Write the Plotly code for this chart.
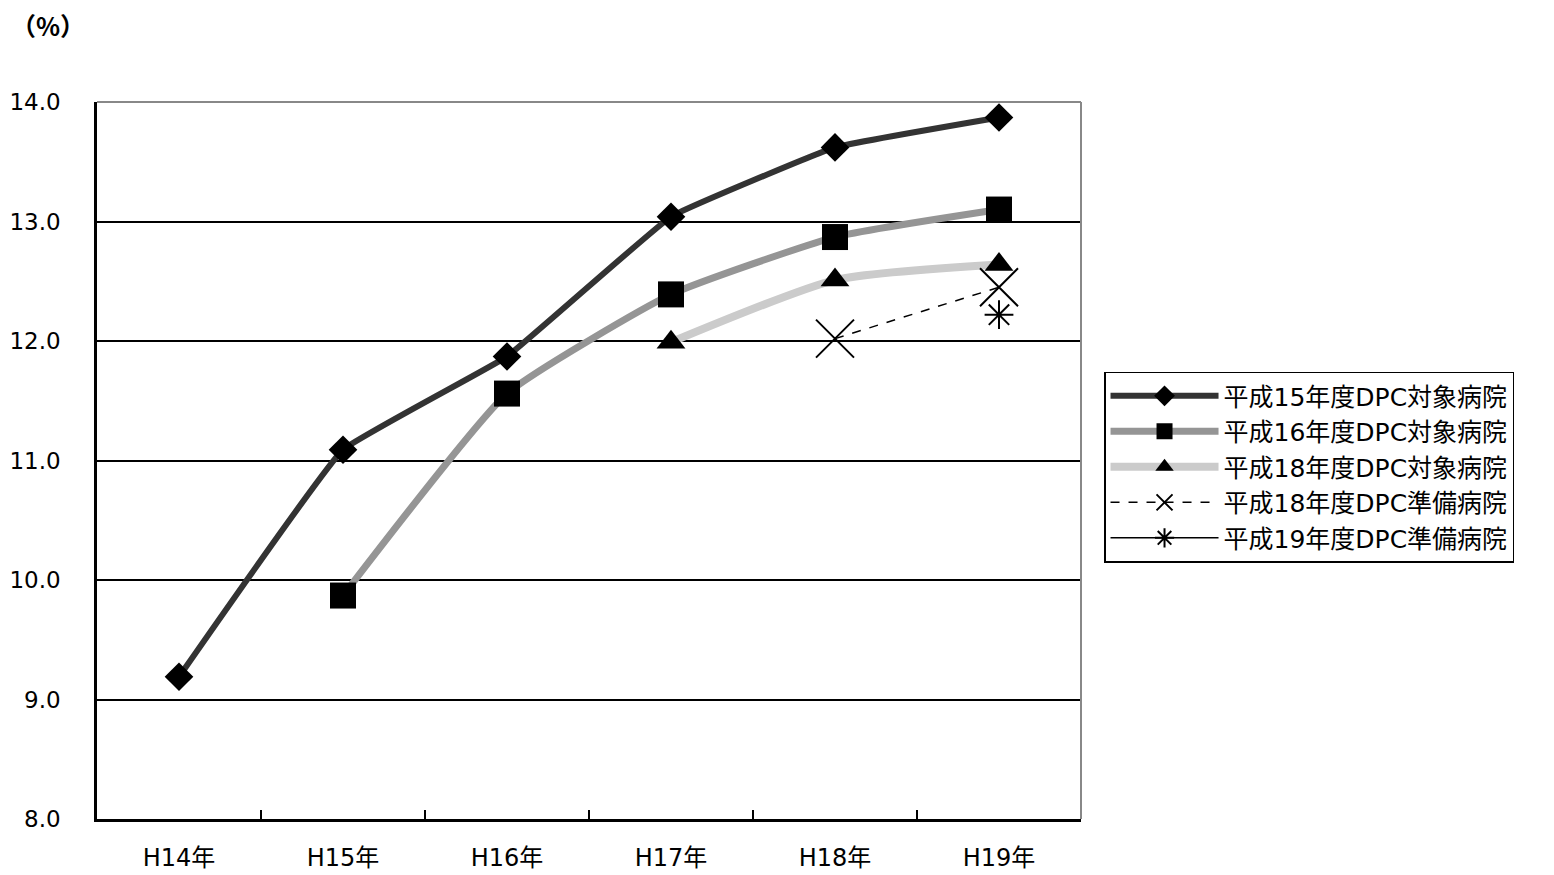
import plotly.graph_objects as go

years = ["H14年", "H15年", "H16年", "H17年", "H18年", "H19年"]

h15_taisho = [9.19, 11.09, 11.87, 13.04, 13.62, 13.87]
h16_taisho = [None, 9.87, 11.56, 12.39, 12.87, 13.10]
h18_taisho = [None, None, None, 11.99, 12.51, 12.64]
h18_junbi = [None, None, None, None, 12.02, 12.45]
h19_junbi = [None, None, None, None, None, 12.22]

names = ["平成15年度DPC対象病院", "平成16年度DPC対象病院", "平成18年度DPC対象病院",
         "平成18年度DPC準備病院", "平成19年度DPC準備病院"]

FONT = "DejaVu Sans, Noto Sans CJK JP, sans-serif"

fig = go.Figure()

fig.add_trace(go.Scatter(
    x=years, y=h15_taisho, name=names[0], mode="lines+markers", legendgroup="a",
    line=dict(color="#333333", width=6, shape="spline", smoothing=0.25),
    marker=dict(symbol="diamond", size=22, color="black"),
))
fig.add_trace(go.Scatter(
    x=years, y=h16_taisho, name=names[1], mode="lines+markers", legendgroup="b",
    line=dict(color="#959595", width=7, shape="spline", smoothing=0.45),
    marker=dict(symbol="square", size=26, color="black"),
))
fig.add_trace(go.Scatter(
    x=years, y=h18_taisho, name=names[2], mode="lines+markers", legendgroup="c",
    line=dict(color="#cbcbcb", width=8, shape="spline", smoothing=0.6),
    marker=dict(symbol="triangle-up", size=25, color="black"),
))
fig.add_trace(go.Scatter(
    x=years, y=h18_junbi, name=names[3], mode="lines+markers", legendgroup="d",
    line=dict(color="black", width=1.5, dash="dash"),
    marker=dict(symbol="x-thin-open", size=38, color="black", line=dict(width=2, color="black")),
))
fig.add_trace(go.Scatter(
    x=years, y=h19_junbi, name=names[4], mode="lines+markers", legendgroup="e",
    line=dict(color="black", width=1.5),
    marker=dict(symbol="asterisk-open", size=24, color="black", line=dict(width=2, color="black")),
))

# the page puts the figure 8px in from the top-left corner
fig.update_layout(
    width=1546, height=867,
    margin=dict(l=89, r=473, t=94, b=56),
    paper_bgcolor="white", plot_bgcolor="white",
    font=dict(family=FONT, size=22, color="black"),
    showlegend=True,
    legend=dict(
        x=1.0234, y=0.624, xanchor="left", yanchor="top",
        bordercolor="black", borderwidth=1.5,
        font=dict(size=25), tracegroupgap=0, itemwidth=108,
    ),
    annotations=[dict(
        text="<b>（%）</b>", xref="paper", yref="paper", x=-0.05, y=1.107,
        xanchor="center", yanchor="middle", showarrow=False,
        font=dict(family="Noto Sans CJK JP", size=25),
    )],
    shapes=[
        dict(type="line", xref="paper", yref="paper", x0=0, x1=1, y0=1, y1=1,
             line=dict(color="#888888", width=2)),
        dict(type="line", xref="paper", yref="paper", x0=1, x1=1, y0=0, y1=1,
             line=dict(color="#888888", width=2)),
    ],
)

fig.update_xaxes(
    type="category", range=[-0.5, 5.5], showgrid=False,
    showline=True, linecolor="black", linewidth=2.5,
    ticks="inside", tickson="boundaries", ticklen=9, tickwidth=1.5, tickcolor="black",
    tickfont=dict(size=24), ticklabelstandoff=15, zeroline=False, automargin=False,
)
fig.update_yaxes(
    range=[8, 14], dtick=1, tickformat=".1f",
    showgrid=True, gridcolor="black", gridwidth=1.5,
    showline=True, linecolor="black", linewidth=2.5,
    tickfont=dict(size=23), ticks="", ticklabelstandoff=29, zeroline=False, automargin=False,
)

fig.write_html("out.html")
